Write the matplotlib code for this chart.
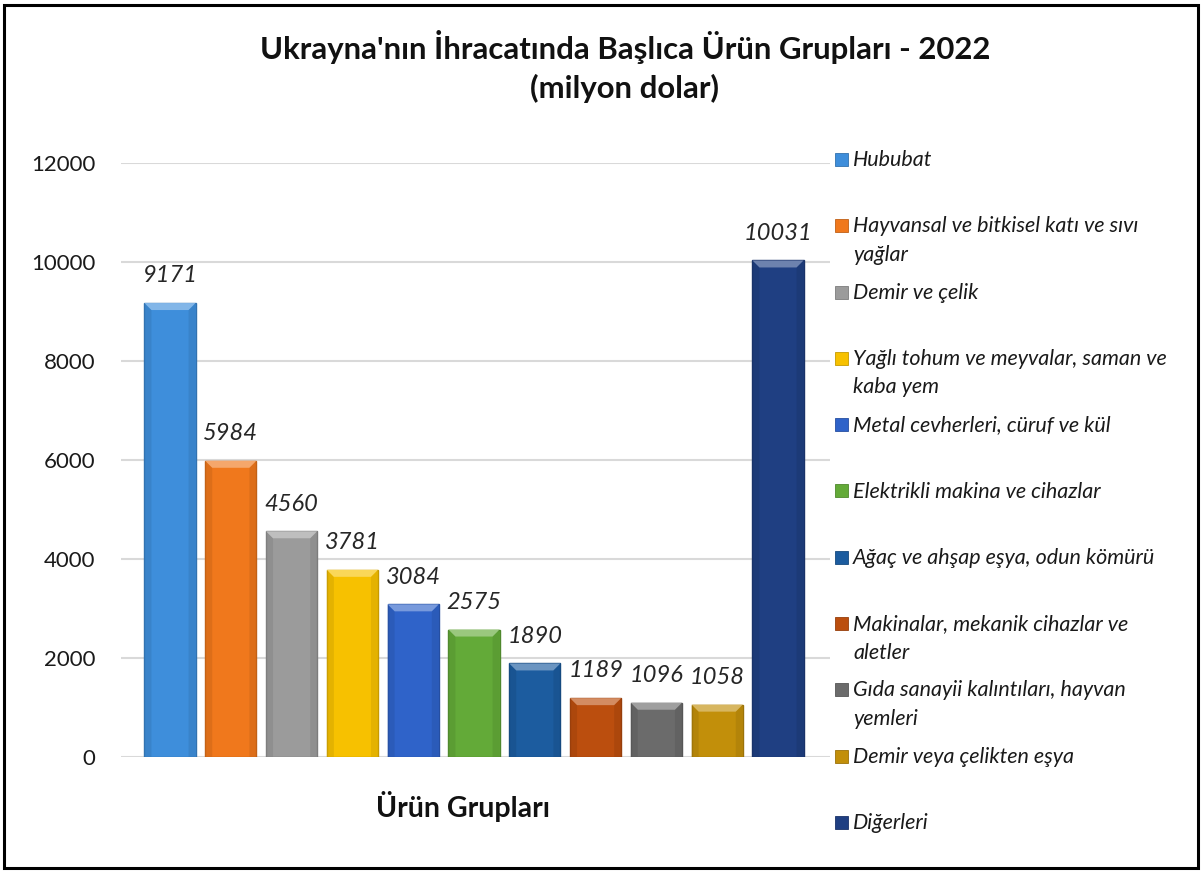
import matplotlib
matplotlib.use("Agg")
import matplotlib.pyplot as plt
import matplotlib.colors as mcolors
from matplotlib.patches import Polygon, Rectangle
import numpy as np

categories = [
    "Hububat",
    "Hayvansal ve bitkisel katı ve sıvı\nyağlar",
    "Demir ve çelik",
    "Yağlı tohum ve meyvalar, saman ve\nkaba yem",
    "Metal cevherleri, cüruf ve kül",
    "Elektrikli makina ve cihazlar",
    "Ağaç ve ahşap eşya, odun kömürü",
    "Makinalar, mekanik cihazlar ve\naletler",
    "Gıda sanayii kalıntıları, hayvan\nyemleri",
    "Demir veya çelikten eşya",
    "Diğerleri",
]
values = [9171, 5984, 4560, 3781, 3084, 2575, 1890, 1189, 1096, 1058, 10031]
colors = ["#3e8edb", "#f0781c", "#9b9b9b", "#f7c100", "#2f63c9", "#63aa38",
          "#1c5c9f", "#bb4e0e", "#6b6b6b", "#c28f0a", "#1f3f82"]
yticks = [0, 2000, 4000, 6000, 8000, 10000, 12000]

FONT = "Lato"
W, H = 1202, 872
fig = plt.figure(figsize=(W / 100, H / 100), dpi=100)
fig.patch.set_facecolor("white")

# frame
fig.add_artist(Rectangle((4 / W, 4 / H), 1 - 8 / W, 1 - 9 / H, transform=fig.transFigure,
                         fill=False, edgecolor="black", linewidth=2.2))

ax = fig.add_axes([121 / W, 1 - 757 / H, (830 - 121) / W, (757 - 163) / H])
x = np.arange(len(values))
step = 60.8
ax.set_xlim((121 - 170) / step, (830 - 170) / step)
ax.set_ylim(0, 12000)
ax.set_yticks(yticks)
ax.set_yticklabels([str(t) for t in yticks], fontsize=16, family=FONT, color="#1a1a1a")
ax.tick_params(axis="y", length=0, pad=18.5)
ax.set_xticks([])
for s in ax.spines.values():
    s.set_visible(False)
ax.yaxis.grid(True, color="#d9d9d9", linewidth=1.5)
ax.set_axisbelow(True)

bw = 0.84
bars = ax.bar(x, values, width=bw, color=colors, zorder=2,
              edgecolor=[mcolors.to_hex(np.array(mcolors.to_rgb(c)) * 0.8) for c in colors],
              linewidth=1.0)

fig.canvas.draw()
# bevel highlights
for rect, c in zip(bars, colors):
    rgb = np.array(mcolors.to_rgb(c))
    light = rgb + (1 - rgb) * 0.35
    dark = rgb * 0.85
    x0, y1 = ax.transData.transform((rect.get_x(), rect.get_height()))
    x1, y0 = ax.transData.transform((rect.get_x() + rect.get_width(), 0))
    b = 7
    top = Polygon([(x0, y1), (x1, y1), (x1 - b, y1 - b), (x0 + b, y1 - b)],
                  closed=True, transform=None, facecolor=light, edgecolor="none", zorder=3)
    left = Polygon([(x0, y1), (x0 + b, y1 - b), (x0 + b, y0), (x0, y0)],
                   closed=True, transform=None, facecolor=dark, edgecolor="none", zorder=3, alpha=0.5)
    right = Polygon([(x1, y1), (x1 - b, y1 - b), (x1 - b, y0), (x1, y0)],
                    closed=True, transform=None, facecolor=dark, edgecolor="none", zorder=3, alpha=0.5)
    for p in (left, right, top):
        fig.add_artist(p)

# value labels
for xi, v in zip(x, values):
    ax.annotate(str(v), (xi, v), xytext=(0, 12), textcoords="offset points",
                ha="center", va="bottom", fontsize=17, style="italic",
                family=FONT, color="#262626", zorder=4)

# title
fig.text(625 / W, 1 - 47 / H, "Ukrayna'nın İhracatında Başlıca Ürün Grupları - 2022",
         ha="center", va="center", fontsize=22.4, weight="bold", family=FONT, color="#111111")
fig.text(625 / W, 1 - 88 / H, "(milyon dolar)",
         ha="center", va="center", fontsize=22.4, weight="bold", family=FONT, color="#111111")

# x axis title
fig.text(463 / W, 1 - 806 / H, "Ürün Grupları", ha="center", va="center",
         fontsize=20.5, weight="bold", family=FONT, color="#111111")

# legend
y_first, y_last = 159, 822
n = len(categories)
for i, (lab, c) in enumerate(zip(categories, colors)):
    yp = y_first + (y_last - y_first) * i / (n - 1)
    rgb = np.array(mcolors.to_rgb(c))
    fig.add_artist(Rectangle((835 / W, 1 - (yp + 7) / H), 13 / W, 13 / H,
                             transform=fig.transFigure, facecolor=c,
                             edgecolor=mcolors.to_hex(rgb * 0.8), linewidth=0.6))
    fig.text(853 / W, 1 - (yp - 9) / H, lab, ha="left", va="top", fontsize=15.5,
             style="italic", family=FONT, color="#1a1a1a", linespacing=1.53)

fig.savefig("out.png", dpi=100, facecolor="white")
